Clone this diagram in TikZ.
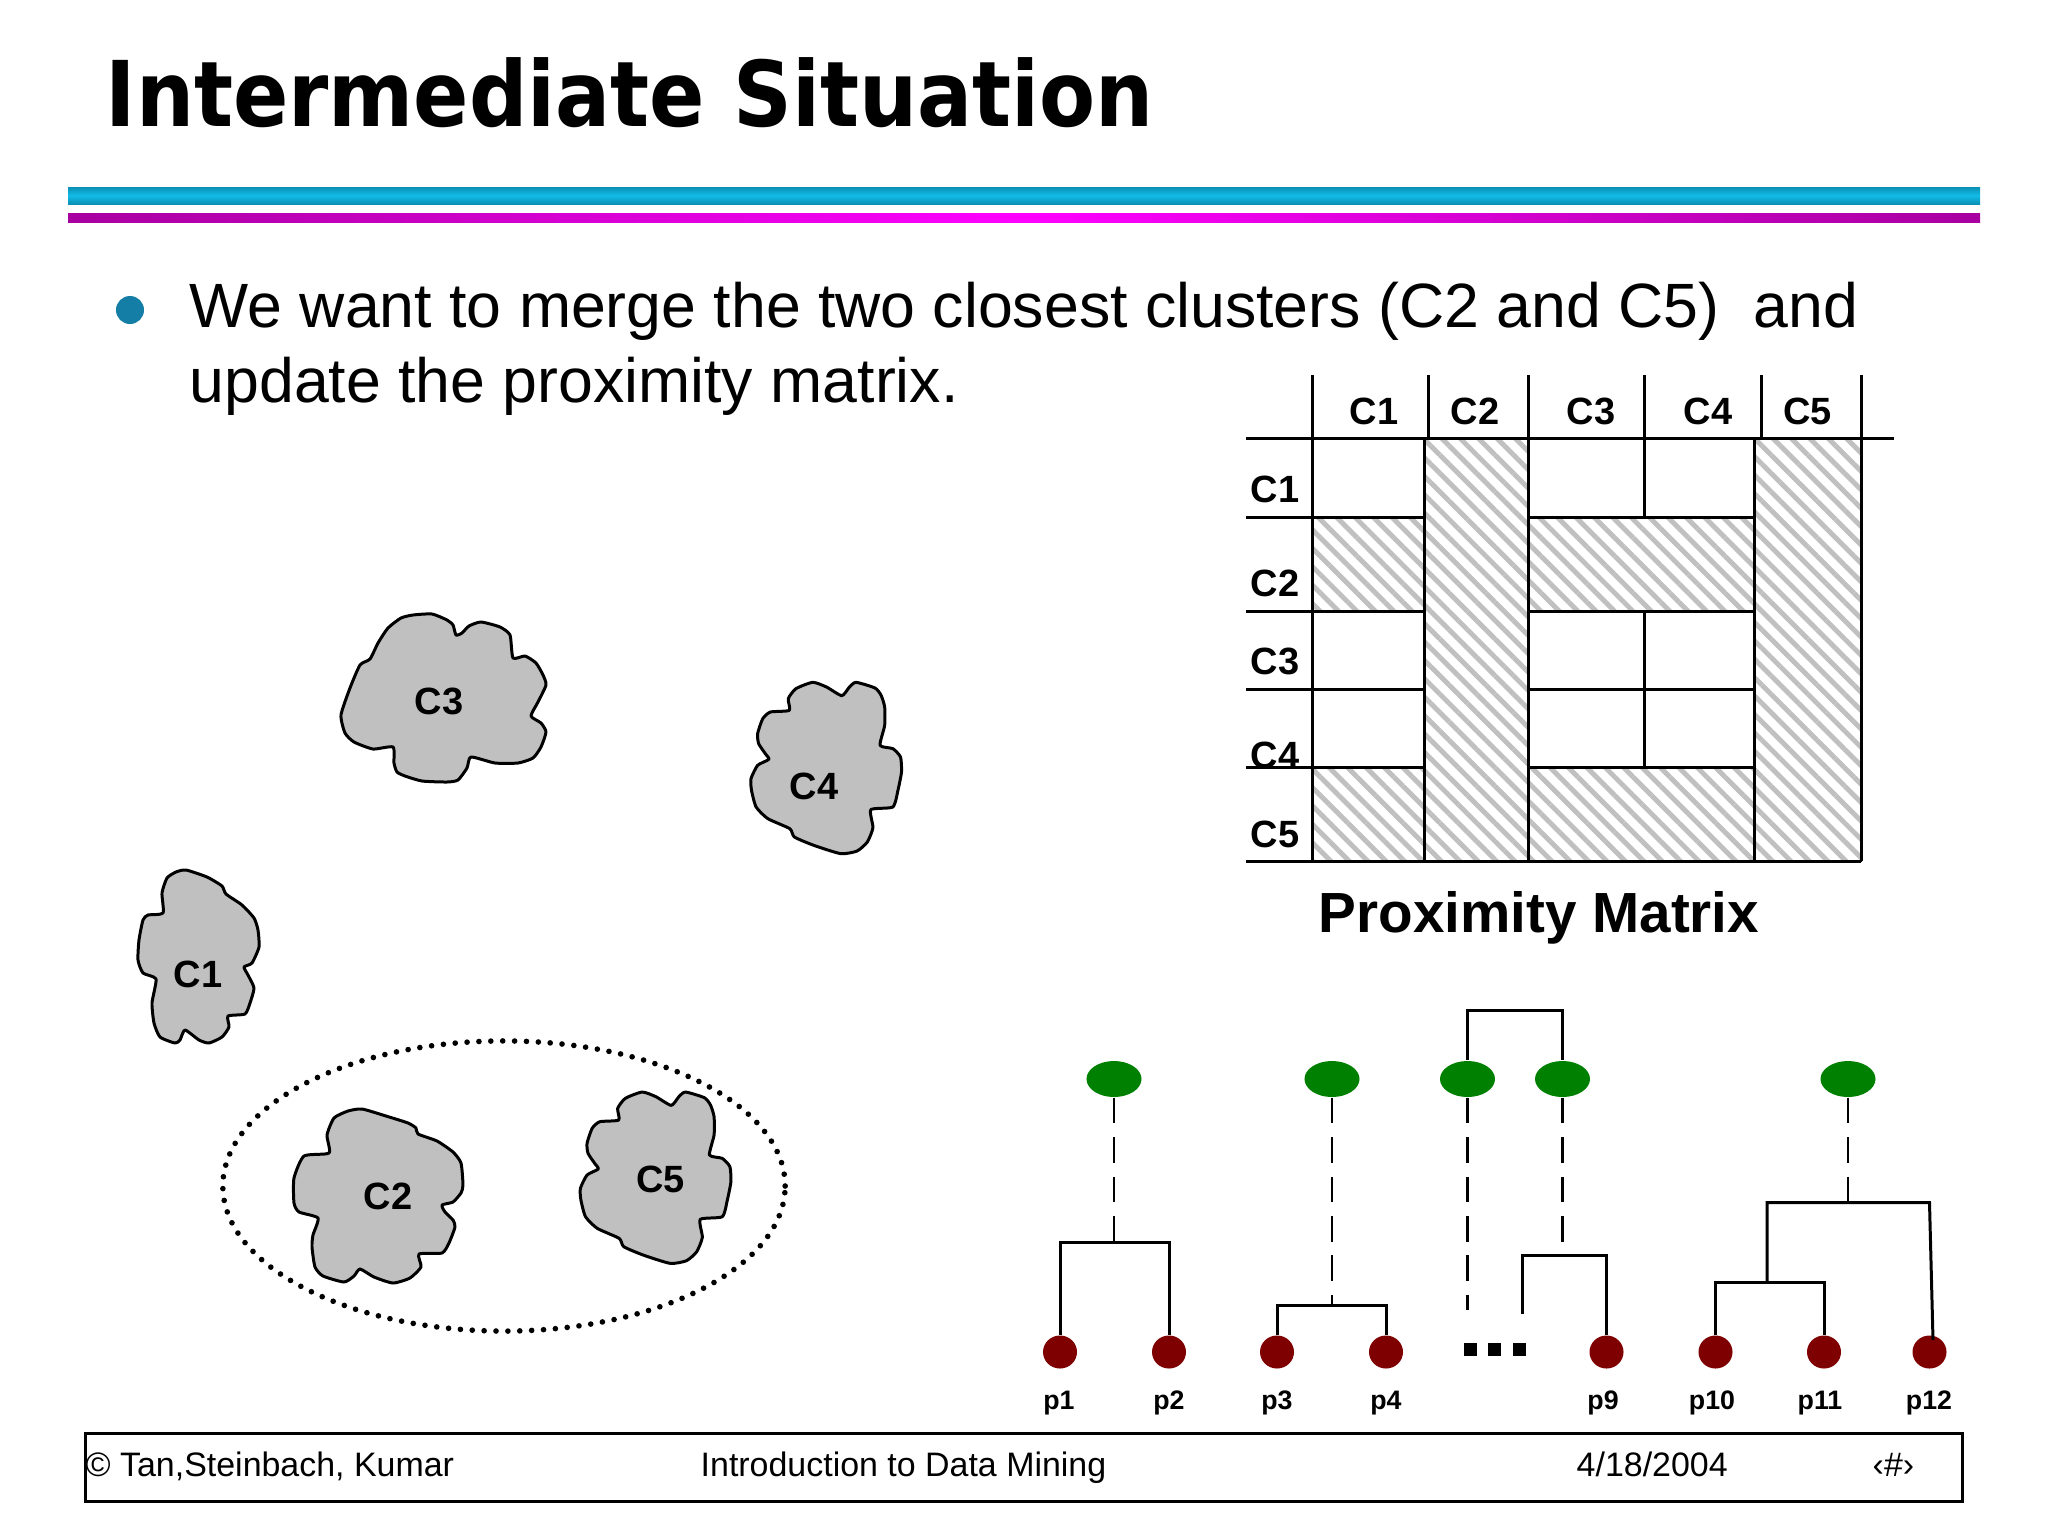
\documentclass[tikz,border=0pt]{standalone}
\usepackage{fontspec}
\setmainfont{Liberation Sans}
\newfontfamily\titlefont{DejaVu Sans Condensed}[BoldFont={DejaVu Sans Condensed Bold}]
\usetikzlibrary{patterns.meta}
\usetikzlibrary{shapes.geometric}
\definecolor{blobgray}{HTML}{C0C0C0}
\definecolor{pointred}{HTML}{7F0000}
\definecolor{bulletblue}{HTML}{147EA6}
\definecolor{bardark}{HTML}{0C8FB4}
\definecolor{barlight}{HTML}{12BCE8}
\definecolor{plumdark}{HTML}{A800A0}
\tikzset{
	titletext/.style={anchor=base west,inner sep=0,font=\titlefont\fontsize{25.8}{30}\selectfont\bfseries},
	bodytext/.style={anchor=base west,inner sep=0,font=\fontsize{17.8}{20}\selectfont},
	foottext/.style={anchor=base west,inner sep=0,font=\fontsize{9.65}{11}\selectfont},
	clabel/.style={inner sep=0,font=\fontsize{10.8}{12}\selectfont\bfseries},
	rowlabel/.style={clabel,anchor=west},
	plabel/.style={inner sep=0,font=\fontsize{7.6}{9}\selectfont\bfseries},
	blob/.style={draw=black,fill=blobgray,line width=0.85pt,line join=round},
	hatchcell/.style={pattern={Lines[angle=-45,distance=3.7pt,line width=1.4pt]},pattern color=blobgray},
	gridline/.style={line width=0.85pt},
	centroid/.style={draw=none,fill=green!50!black,ellipse,inner sep=0,minimum width=0.55cm,minimum height=0.36cm},
	point/.style={draw=none,fill=pointred,ellipse,inner sep=0,minimum width=0.34cm,minimum height=0.33cm},
	merge/.style={line width=0.85pt},
	cut/.style={line width=0.75pt,dash pattern=on 7.3pt off 3.9pt},
	dotsq/.style={draw=none,fill=black,inner sep=0,minimum width=0.13cm,minimum height=0.125cm},
	clusterblob/.pic={
		\draw[blob,xscale=.5102,yscale=.3333,shift={(-1237,-275)}] plot[smooth cycle,tension=.35] coordinates {(1358,276) (1385,290) (1415,316) (1430,290) (1443,276) (1480,293) (1492,315) (1499,350) (1499,405) (1490,465) (1515,475) (1530,500) (1532,545) (1525,600) (1515,650) (1472,658) (1476,712) (1465,755) (1445,782) (1413,790) (1360,765) (1322,740) (1313,715) (1270,685) (1247,650) (1238,600) (1237,565) (1250,525) (1272,507) (1265,490) (1252,460) (1250,430) (1260,385) (1275,365) (1312,360) (1310,325) (1325,295)};
	}
}
\begin{document}
\begin{tikzpicture}[x=0.01cm,y=-0.01cm]
	\useasboundingbox (0,0) rectangle (2048,1536);
	\node[titletext] (title) at (105,126) {Intermediate Situation};
	\shade[top color=bardark,bottom color=bardark,middle color=barlight] (68,187) rectangle (1980,204);
	\shade[left color=plumdark,right color=plumdark,middle color=magenta] (68,213) rectangle (1980,222);
	\node[circle,fill=bulletblue,inner sep=0,minimum size=0.28cm] (bullet) at (130,310) {};
	\node[bodytext] (line1) at (189,327) {We want to merge the two closest clusters (C2 and C5)~ and};
	\node[bodytext] (line2) at (189,402) {update the proximity matrix.};

	\draw[hatchcell] (1424.5,438.5) rectangle (1528,861);
	\draw[hatchcell] (1754,438.5) rectangle (1861,861);
	\draw[hatchcell] (1312,517) rectangle (1424.5,611);
	\draw[hatchcell] (1528,517) rectangle (1754,611);
	\draw[hatchcell] (1312,767.5) rectangle (1424.5,861);
	\draw[hatchcell] (1528,767.5) rectangle (1754,861);
	\draw[gridline] (1246,438.5)--(1894,438.5) (1246,517)--(1424.5,517) (1528,517)--(1754,517);
	\draw[gridline] (1246,611)--(1424.5,611) (1528,611)--(1754,611);
	\draw[gridline] (1246,689)--(1424.5,689) (1528,689)--(1754,689);
	\draw[gridline] (1246,767.5)--(1424.5,767.5) (1528,767.5)--(1754,767.5);
	\draw[gridline] (1246,861)--(1861,861);
	\draw[gridline] (1312,375)--(1312,861) (1428,375)--(1428,438.5) (1424.5,438.5)--(1424.5,861);
	\draw[gridline] (1528,375)--(1528,861) (1644,375)--(1644,517) (1644,611)--(1644,767.5);
	\draw[gridline] (1761,375)--(1761,438.5) (1754,438.5)--(1754,861) (1861,375)--(1861,861);
	\node[clabel] (headc1) at (1374,411) {C1};
	\node[clabel] (headc2) at (1475,411) {C2};
	\node[clabel] (headc3) at (1591,411) {C3};
	\node[clabel] (headc4) at (1708,411) {C4};
	\node[clabel] (headc5) at (1807.5,411) {C5};
	\node[rowlabel] (rowc1) at (1250,489) {C1};
	\node[rowlabel] (rowc2) at (1250,583) {C2};
	\node[rowlabel] (rowc3) at (1250,661) {C3};
	\node[rowlabel] (rowc4) at (1250,755) {C4};
	\node[rowlabel] (rowc5) at (1250,834) {C5};
	\node[inner sep=0,font=\fontsize{16.1}{18}\selectfont\bfseries] (proxmat) at (1539,918) {Proximity Matrix};

	\draw[blob] plot[smooth cycle,tension=.35] coordinates {(432,614) (447,620) (453,625) (456,635) (462,633) (469,626) (481,622) (500,627) (510,635) (513,658) (525,656) (536,663) (543,675) (546,685) (538,702) (531,716) (541,723) (546,732) (541,747) (533,758) (518,763) (495,763) (471,757) (467,768) (458,780) (447,782) (422,781) (405,776) (397,772) (394,763) (393,747) (373,749) (354,742) (345,733) (341,715) (350,688) (360,665) (370,659) (378,643) (388,628) (401,618) (413,615)};
	\node[clabel] (labc3) at (439,701) {C3};
	\pic (blobc4) at (751,682) {clusterblob};
	\node[clabel] (labc4) at (814,786) {C4};
	\draw[blob] plot[smooth cycle,tension=.35] coordinates {(186,870) (207,877) (222,886) (226,894) (242,905) (254,918) (258,930) (259,947) (252,963) (244,967) (248,975) (254,988) (250,1003) (245,1014) (228,1016) (229,1027) (222,1037) (209,1043) (199,1040) (185,1030) (180,1040) (175,1043) (160,1037) (154,1023) (152,1003) (156,979) (143,973) (138,960) (139,940) (143,920) (148,915) (163,913) (162,893) (167,878) (176,872)};
	\node[clabel] (labc1) at (198,974) {C1};
	\draw[blob] plot[smooth cycle,tension=.35] coordinates {(362,1109) (386,1116) (408,1123) (416,1128) (418,1134) (437,1141) (453,1152) (461,1163) (463,1185) (461,1193) (453,1202) (442,1205) (445,1212) (453,1220) (455,1227) (449,1243) (442,1253) (419,1254) (421,1267) (410,1278) (393,1283) (374,1277) (360,1269) (354,1276) (344,1282) (323,1276) (315,1267) (312,1247) (313,1235) (318,1218) (299,1212) (294,1203) (294,1178) (304,1156) (329,1153) (327,1135) (334,1118) (348,1111)};
	\node[clabel] (labc2) at (388,1196) {C2};
	\pic (blobc5) at (580.4,1091.7) {clusterblob};
	\node[clabel] (labc5) at (660.5,1179) {C5};
	\node[draw,ellipse,inner sep=0,minimum width=5.62cm,minimum height=2.9cm,line width=1.6pt,line cap=round,dash pattern=on 0pt off 3.38pt] (merged) at (504,1186) {};

	\node[centroid] (g1) at (1114,1079) {};
	\node[centroid] (g2) at (1332,1079) {};
	\node[centroid] (g3) at (1467.5,1079) {};
	\node[centroid] (g4) at (1562.5,1079) {};
	\node[centroid] (g5) at (1848,1079) {};
	\node[point] (p1) at (1060,1352) {};
	\node[point] (p2) at (1169,1352) {};
	\node[point] (p3) at (1277,1352) {};
	\node[point] (p4) at (1386,1352) {};
	\node[point] (p9) at (1606.5,1352) {};
	\node[point] (p10) at (1715.5,1352) {};
	\node[point] (p11) at (1824,1352) {};
	\node[point] (p12) at (1929.5,1352) {};
	\node[plabel] (lab1) at (1059,1403) {p1};
	\node[plabel] (lab2) at (1169,1403) {p2};
	\node[plabel] (lab3) at (1277,1403) {p3};
	\node[plabel] (lab4) at (1386,1403) {p4};
	\node[plabel] (lab9) at (1603,1403) {p9};
	\node[plabel] (lab10) at (1712,1403) {p10};
	\node[plabel] (lab11) at (1820,1403) {p11};
	\node[plabel] (lab12) at (1929,1403) {p12};
	\node[dotsq] (dot1) at (1470,1349.5) {};
	\node[dotsq] (dot2) at (1494.5,1349.5) {};
	\node[dotsq] (dot3) at (1519.5,1349.5) {};
	\coordinate (top3) at (1467.5,1010);
	\coordinate (top4) at (1562.5,1010);
	\coordinate (bar1) at (1114,1242.5);
	\coordinate (bar1l) at (1060,1242.5);
	\coordinate (bar1r) at (1169,1242.5);
	\coordinate (bar2) at (1332,1305);
	\coordinate (bar2l) at (1277,1305);
	\coordinate (bar2r) at (1386,1305);
	\coordinate (end3) at (1467.5,1310);
	\coordinate (bar4) at (1562.5,1255.5);
	\coordinate (bar4l) at (1522,1255.5);
	\coordinate (bar4r) at (1606.5,1255.5);
	\coordinate (end4) at (1522,1314);
	\coordinate (bar5) at (1848,1202.5);
	\coordinate (bar5l) at (1767,1202.5);
	\coordinate (bar5r) at (1929.5,1202.5);
	\coordinate (end12) at (1933,1340);
	\coordinate (bar6) at (1767,1282);
	\coordinate (bar6l) at (1715.5,1282);
	\coordinate (bar6r) at (1824,1282);
	\draw[merge] (g3.north)--(top3)--(top4)--(g4.north);
	\draw[cut] (g1.south)--(bar1);
	\draw[cut] (g2.south)--(bar2);
	\draw[cut] (g3.south)--(end3);
	\draw[cut] (g4.south)--(bar4);
	\draw[cut] (g5.south)--(bar5);
	\draw[merge] (p1.north)--(bar1l)--(bar1r)--(p2.north);
	\draw[merge] (p3.north)--(bar2l)--(bar2r)--(p4.north);
	\draw[merge] (end4)--(bar4l)--(bar4r)--(p9.north);
	\draw[merge] (bar6)--(bar5l)--(bar5r)--(end12);
	\draw[merge] (p10.north)--(bar6l)--(bar6r)--(p11.north);

	\node[draw,line width=0.85pt,inner sep=0,minimum width=18.76cm,minimum height=0.68cm] (footbox) at (1024,1467.5) {};
	\node[foottext] (foot1) at (85,1476) {© Tan,Steinbach, Kumar};
	\node[foottext] (foot2) at (700,1476) {Introduction to Data Mining};
	\node[foottext] (foot3) at (1576,1476) {4/18/2004};
	\node[foottext] (foot4) at (1872,1476) {‹\#›};
\end{tikzpicture}
\end{document}
